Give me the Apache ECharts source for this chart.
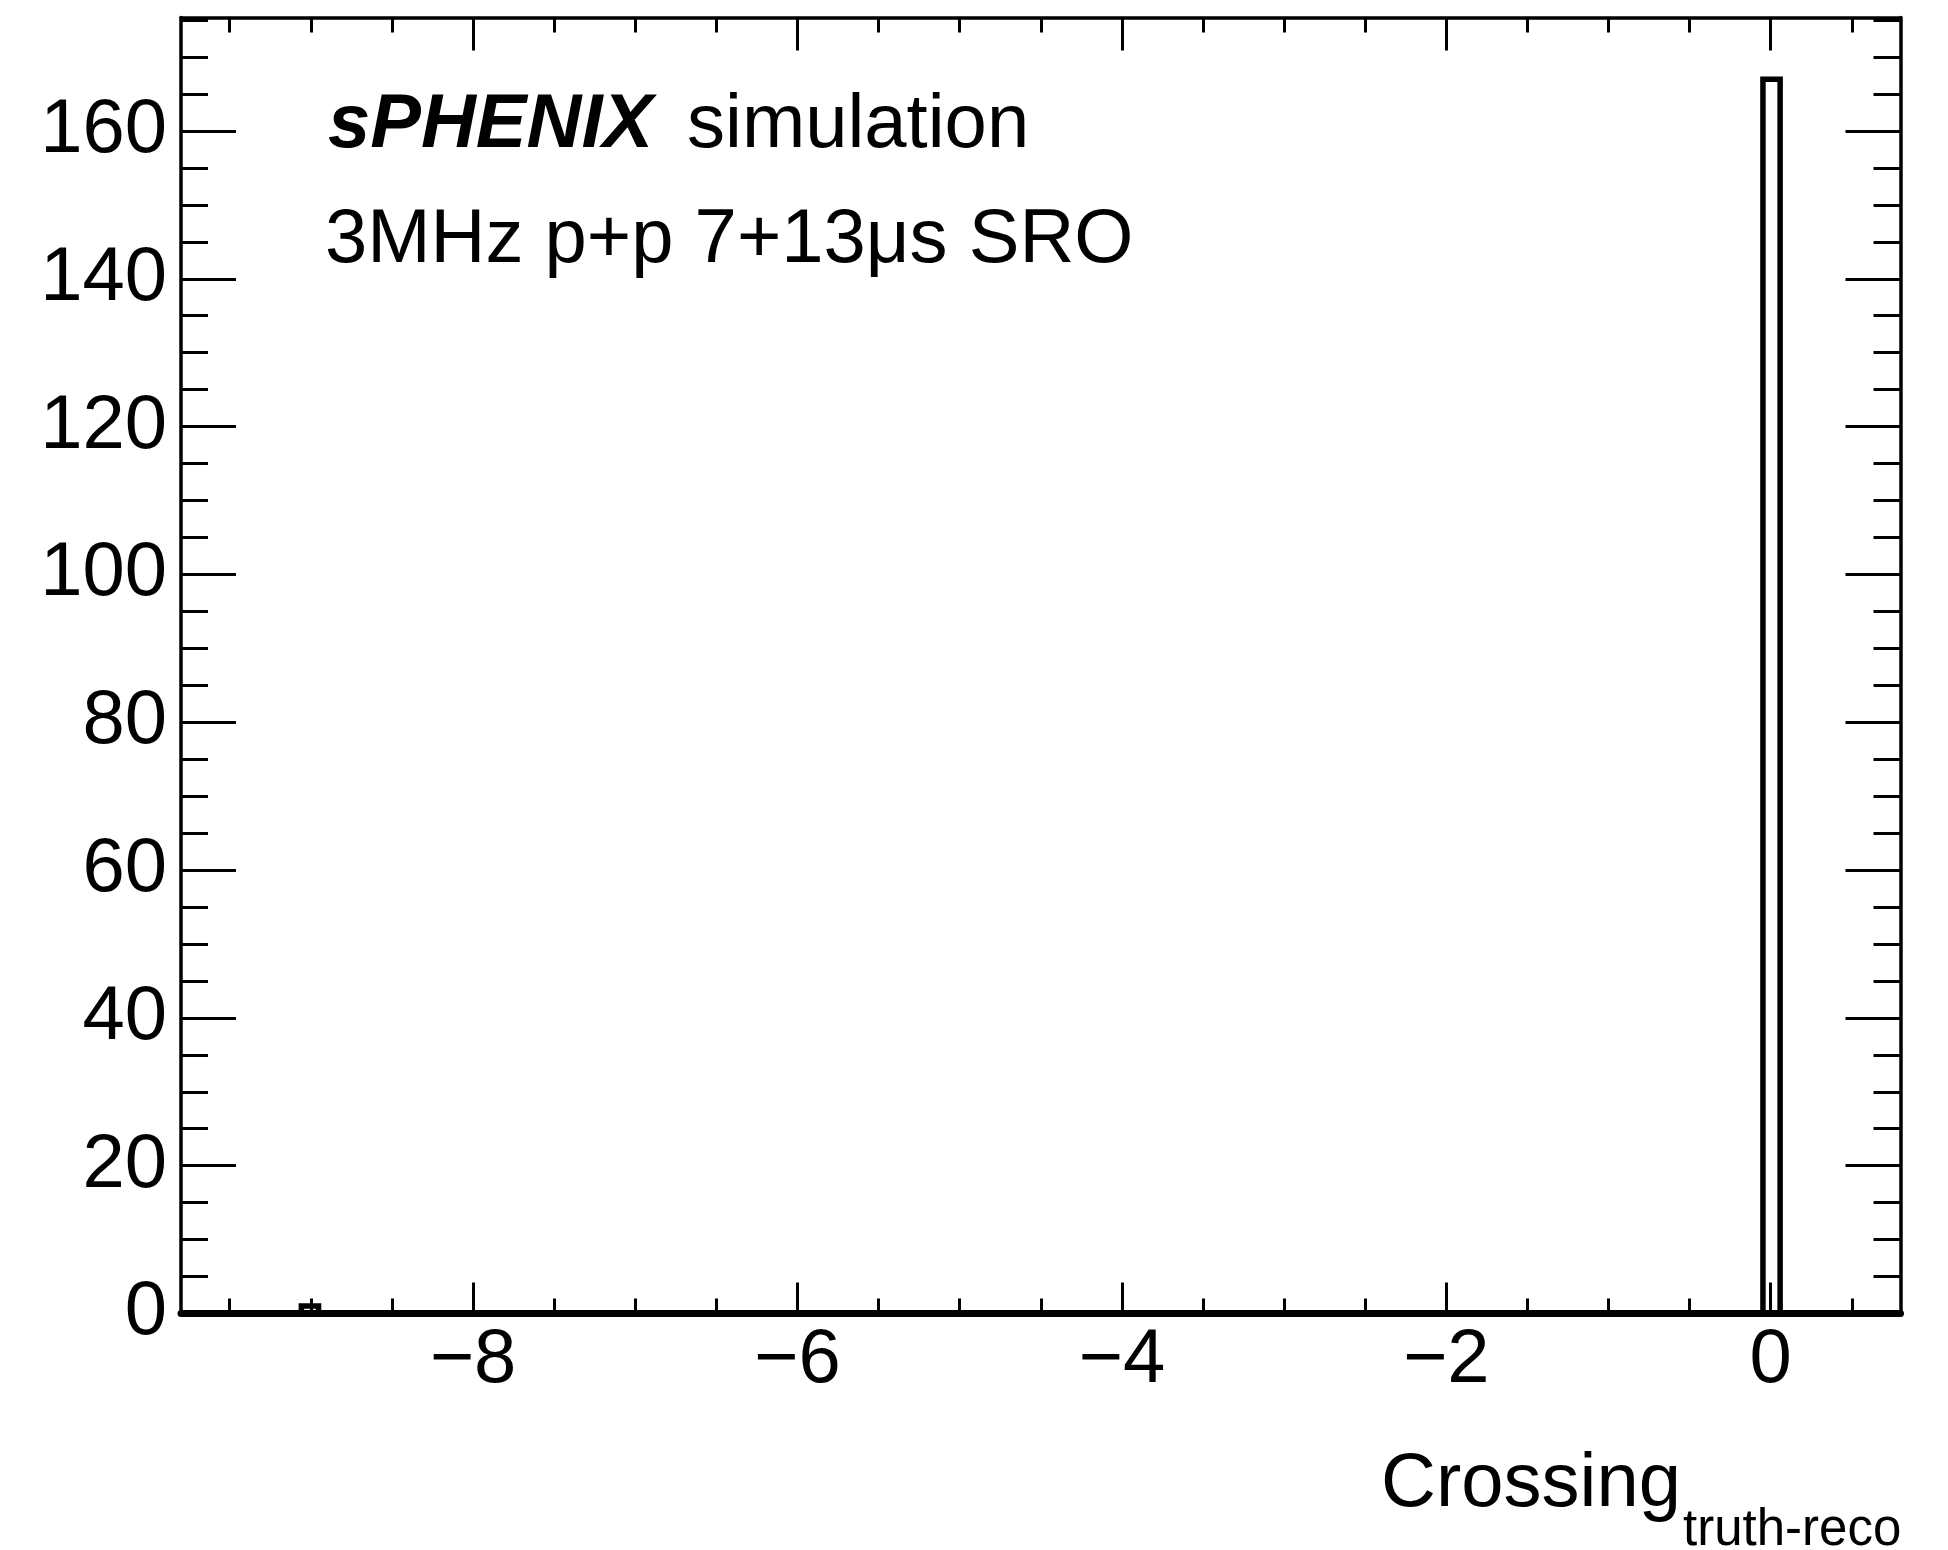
<!DOCTYPE html>
<html>
<head>
<meta charset="utf-8">
<script src="https://cdn.jsdelivr.net/npm/echarts@6/dist/echarts.min.js"></script>
<style>
  html, body { margin: 0; padding: 0; background: #ffffff; }
  #chart { width: 1948px; height: 1550px; }
</style>
</head>
<body>
<div id="chart"></div>
<script>
// Histogram binning: 100 equal bins over [-9.8, 0.8]
const histXMin = -9.8;
const histXMax = 0.8;
const histNBins = 100;
// Non-empty bins (0-based index) and their entries
const filledBins = [7, 92];
const binCounts = [1, 167];

// Axis ranges and tick positions
const yMax = 175.35;
const xMajorTicks = [-8, -6, -4, -2, 0];
const xMinorTicks = [-9.5, -9, -8.5, -7.5, -7, -6.5, -5.5, -5, -4.5, -3.5, -3, -2.5, -1.5, -1, -0.5, 0.5];
const yMajorTicks = [0, 20, 40, 60, 80, 100, 120, 140, 160];
const yMinorTicks = [5, 10, 15, 25, 30, 35, 45, 50, 55, 65, 70, 75, 85, 90, 95, 105, 110, 115,
                     125, 130, 135, 145, 150, 155, 165, 170, 175];

const FONT = '"Liberation Sans", Arial, Helvetica, sans-serif';
const binWidth = (histXMax - histXMin) / histNBins;
const histData = filledBins.map((b, i) => [histXMin + b * binWidth, histXMin + (b + 1) * binWidth, binCounts[i]]);

const fmtTick = v => (v < 0 ? '\u2212' + Math.abs(v) : String(v));

function xAxisDef(position, ticks, len, withLabel, lineWidth) {
  return {
    type: 'value', position: position, min: histXMin, max: histXMax,
    axisLine: { show: lineWidth > 0, onZero: false, lineStyle: { color: '#000', width: lineWidth } },
    axisTick: { show: true, inside: true, length: len, customValues: ticks, lineStyle: { color: '#000', width: 3 } },
    axisLabel: withLabel
      ? { show: true, customValues: ticks, formatter: fmtTick, fontSize: 76, fontFamily: FONT, color: '#000', margin: 10 }
      : { show: false },
    splitLine: { show: false }, minorTick: { show: false }
  };
}
function yAxisDef(position, ticks, len, withLabel, lineWidth) {
  return {
    type: 'value', position: position, min: 0, max: yMax,
    axisLine: { show: lineWidth > 0, onZero: false, lineStyle: { color: '#000', width: lineWidth } },
    axisTick: { show: true, inside: true, length: len, customValues: ticks, lineStyle: { color: '#000', width: 3 } },
    axisLabel: withLabel
      ? { show: true, customValues: ticks, formatter: fmtTick, fontSize: 76, fontFamily: FONT, color: '#000', margin: 14 }
      : { show: false },
    splitLine: { show: false }, minorTick: { show: false }
  };
}

const chart = echarts.init(document.getElementById('chart'), null, { renderer: 'canvas' });
chart.setOption({
  backgroundColor: '#ffffff',
  animation: false,
  grid: { left: 181, right: 47.5, top: 17.5, bottom: 236.5, containLabel: false, outerBoundsMode: 'none' },
  xAxis: [
    xAxisDef('bottom', xMajorTicks, 31, true, 7),
    xAxisDef('bottom', xMinorTicks, 15, false, 0),
    xAxisDef('top', xMajorTicks, 33, false, 3.5),
    xAxisDef('top', xMinorTicks, 15, false, 0)
  ],
  yAxis: [
    yAxisDef('left', yMajorTicks, 55, true, 3.5),
    yAxisDef('left', yMinorTicks, 27, false, 0),
    yAxisDef('right', yMajorTicks, 55, false, 3.5),
    yAxisDef('right', yMinorTicks, 27, false, 0)
  ],
  series: [{
    type: 'custom',
    xAxisIndex: 0,
    yAxisIndex: 0,
    clip: false,
    encode: { x: [0, 1], y: 2 },
    data: histData,
    renderItem: function (params, api) {
      const lo = api.value(0), hi = api.value(1), c = api.value(2);
      const pts = [api.coord([lo, 0]), api.coord([lo, c]), api.coord([hi, c]), api.coord([hi, 0])];
      return {
        type: 'polyline',
        shape: { points: pts },
        style: { stroke: '#000', lineWidth: 5.5, fill: null, lineJoin: 'miter' }
      };
    }
  }],
  graphic: [
    { type: 'text', x: 328, y: 126, style: { text: 'sPHENIX', font: 'italic bold 76px ' + FONT, fill: '#000', align: 'left', verticalAlign: 'middle' } },
    { type: 'text', x: 687, y: 126, style: { text: 'simulation', font: '76px ' + FONT, fill: '#000', align: 'left', verticalAlign: 'middle' } },
    { type: 'text', x: 325, y: 241, style: { text: '3MHz p+p 7+13\u03bcs SRO', font: '76px ' + FONT, fill: '#000', align: 'left', verticalAlign: 'middle' } },
    { type: 'text', x: 1681, y: 1485, style: { text: 'Crossing', font: '76px ' + FONT, fill: '#000', align: 'right', verticalAlign: 'middle' } },
    { type: 'text', x: 1683, y: 1531, style: { text: 'truth-reco', font: '51px ' + FONT, fill: '#000', align: 'left', verticalAlign: 'middle' } }
  ]
});
</script>
</body>
</html>
